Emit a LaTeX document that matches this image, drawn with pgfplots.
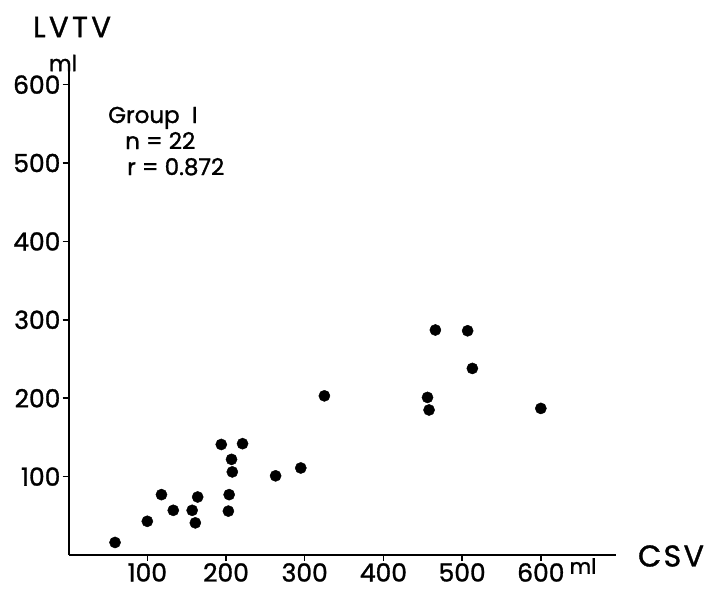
\documentclass[border=0pt]{standalone}
\usepackage{fontspec}
\setmainfont{Poppins}[FakeBold=1.2]
\usepackage{pgfplots}
\pgfplotsset{compat=1.18}

% LVTV against CSV, Group I (n = 22)
\pgfplotstableread{
csv lvtv
59  16
100 43
118 77
133 57
157 57
161 41
164 74
194 141
221 142
207 122
208 106
204 77
203 56
263 101
295 111
325 203
466 287
507 286
513 238
456 201
458 185
600 187
}\groupone

\begin{document}
\begin{tikzpicture}[x=1pt,y=1pt]
\path[use as bounding box] (0,0) rectangle (704,-597);
\begin{axis}[
  at={(68.6pt,-555pt)}, anchor=south west,
  scale only axis, width=547pt, height=484.5pt,
  xmin=0, xmax=695, ymin=0, ymax=618,
  axis lines=left,
  axis line style={-, line width=2pt},
  xtick={100,200,...,600}, ytick={100,200,...,600},
  tick align=outside, major tick length=6pt,
  tick style={black, line width=1.5pt},
  /pgf/number format/assume math mode=true,
  /pgf/number format/1000 sep={},
  ticklabel style={font=\fontsize{25}{27}\selectfont},
  xticklabel style={inner sep=2pt},
  yticklabel style={inner sep=2pt},
  clip=false,
]
\addplot[only marks, mark=*, mark size=5.6pt, black] table[x=csv, y=lvtv] {\groupone};
\end{axis}
\node[font=\fontsize{29}{31}\selectfont\addfontfeature{LetterSpace=12}] at (72,-27) {LVTV};
\node[font=\fontsize{22}{24}\selectfont] at (63,-63) {ml};
\node[font=\fontsize{30}{32}\selectfont\addfontfeature{LetterSpace=8}] at (671,-556) {CSV};
\node[font=\fontsize{21}{23}\selectfont] at (583,-566) {ml};
\node[font=\fontsize{23}{25}\selectfont, anchor=base west, inner sep=0pt] at (108,-123) {Group\ \ I};
\node[font=\fontsize{23}{25}\selectfont, anchor=base west, inner sep=0pt] at (125,-149) {n = 22};
\node[font=\fontsize{23}{25}\selectfont, anchor=base west, inner sep=0pt] at (127,-175) {r = 0.872};
\end{tikzpicture}
\end{document}
